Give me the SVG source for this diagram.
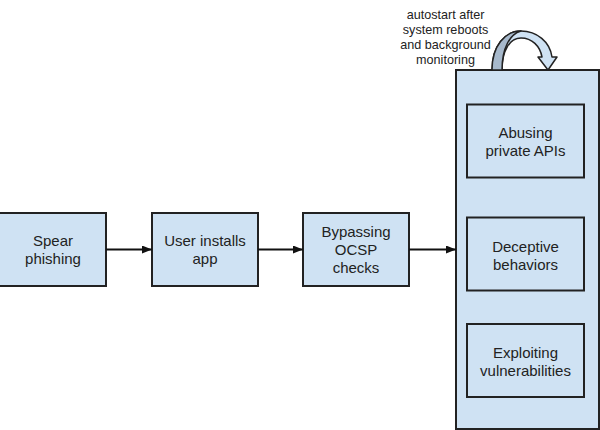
<svg xmlns="http://www.w3.org/2000/svg" width="600" height="430" viewBox="0 0 600 430">
<style>
.box{fill:#cfe2f3;stroke:#222;stroke-width:2}
.t{font-family:"Liberation Sans",Arial,sans-serif;font-size:15px;fill:#222;text-anchor:middle}
.n{font-family:"Liberation Sans",Arial,sans-serif;font-size:12.6px;fill:#222;text-anchor:middle}
.c{stroke:#111;stroke-width:2;fill:none}
</style>
<defs>
<marker id="ah" markerWidth="10" markerHeight="8" refX="10" refY="4" orient="auto" markerUnits="userSpaceOnUse">
<path d="M0,0 L10,4 L0,8 Z" fill="#111"/>
</marker>
</defs>
<g id="container">
<rect class="box" x="456" y="70" width="143" height="359"/>
</g>
<g id="spear">
<rect class="box" x="-1" y="213" width="107" height="73"/>
<text class="t" x="53" y="246">Spear</text>
<text class="t" x="53" y="264">phishing</text>
</g>
<g id="installs">
<rect class="box" x="152" y="213" width="106" height="73"/>
<text class="t" x="205" y="246">User installs</text>
<text class="t" x="205" y="264">app</text>
</g>
<g id="ocsp">
<rect class="box" x="303" y="213" width="106" height="73"/>
<text class="t" x="356" y="237">Bypassing</text>
<text class="t" x="356" y="255">OCSP</text>
<text class="t" x="356" y="273">checks</text>
</g>
<g id="apis">
<rect class="box" x="467" y="104.5" width="117" height="73"/>
<text class="t" x="525.5" y="138">Abusing</text>
<text class="t" x="525.5" y="156">private APIs</text>
</g>
<g id="deceptive">
<rect class="box" x="467" y="217.5" width="117" height="73"/>
<text class="t" x="525.5" y="251.5">Deceptive</text>
<text class="t" x="525.5" y="269.5">behaviors</text>
</g>
<g id="exploiting">
<rect class="box" x="467" y="324" width="117" height="73"/>
<text class="t" x="525.5" y="358">Exploiting</text>
<text class="t" x="525.5" y="376">vulnerabilities</text>
</g>
<g id="connectors">
<line class="c" x1="106" y1="249.5" x2="152" y2="249.5" marker-end="url(#ah)"/>
<line class="c" x1="258" y1="249.5" x2="303" y2="249.5" marker-end="url(#ah)"/>
<line class="c" x1="409" y1="249.5" x2="456" y2="249.5" marker-end="url(#ah)"/>
</g>
<g id="loop">
<path d="M492,70 C492,46 505,31 521,31 C537,31 550,42 552,57 L557,57 L548,70 L538,57 L542,57 C540,46 532,38 521,38 C510,38 502,50 502,70 Z" fill="#cfe2f3" stroke="#222" stroke-width="1.5" stroke-linejoin="round"/>
<path d="M492,70 C492,46 505,31 521,31 C510,34 502,48 502,70 Z" fill="#a7b9cc" stroke="#222" stroke-width="1.5" stroke-linejoin="round"/>
</g>
<g id="note">
<text class="n" x="445.5" y="18.5">autostart after</text>
<text class="n" x="445.5" y="33.7">system reboots</text>
<text class="n" x="445.5" y="49">and background</text>
<text class="n" x="445.5" y="64.2">monitoring</text>
</g>
</svg>
